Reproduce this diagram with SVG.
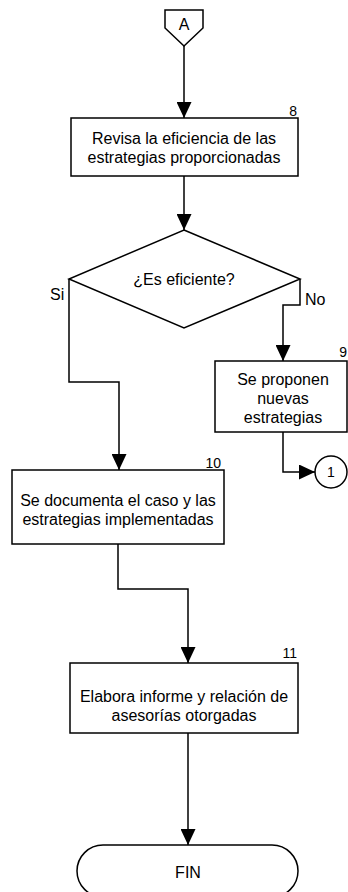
<svg xmlns="http://www.w3.org/2000/svg" width="348" height="892" viewBox="0 0 348 892">
<defs>
<marker id="arr" markerUnits="userSpaceOnUse" markerWidth="16" markerHeight="15" refX="16" refY="7.5" orient="auto">
<path d="M0,0 L16,7.5 L0,15 z" fill="#000"/>
</marker>
<style>
.s{fill:#fff;stroke:#000;stroke-width:1.5}
.c{fill:none;stroke:#000;stroke-width:1.5;marker-end:url(#arr)}
.l{fill:none;stroke:#000;stroke-width:1.5}
text{font-family:"Liberation Sans",Arial,sans-serif;font-size:16px;fill:#000}
.m{text-anchor:middle}
.n{font-size:14px;text-anchor:end}
</style>
</defs>
<rect width="348" height="892" fill="#fff"/>
<g id="connectors">
<path class="c" d="M184,46 V118"/>
<path class="c" d="M184,176 V230"/>
<path class="c" d="M69,279 V382 H119 V470"/>
<path class="c" d="M300,279 V305 H283 V361"/>
<path class="c" d="M283,432 V472 H315"/>
<path class="c" d="M118,544 V589 H188 V663"/>
<path class="c" d="M188,733 V845"/>
</g>
<g id="connA">
<path class="s" d="M165,10 H203 V28 L184,46 L165,28 Z"/>
<text class="m" x="184" y="30">A</text>
</g>
<g id="n8">
<rect class="s" x="71" y="118" width="227" height="58"/>
<text class="n" x="297" y="116">8</text>
<text class="m" x="184" y="144">Revisa la eficiencia de las</text>
<text class="m" x="184" y="163">estrategias proporcionadas</text>
</g>
<g id="d1">
<path class="s" d="M184,230 L300,279 L184,328 L69,279 Z"/>
<text class="m" x="184" y="285">¿Es eficiente?</text>
<text x="50" y="300">Si</text>
<text x="305" y="305">No</text>
</g>
<g id="n9">
<rect class="s" x="215" y="361" width="132" height="71"/>
<text class="n" x="347" y="357">9</text>
<text class="m" x="283" y="385">Se proponen</text>
<text class="m" x="283" y="404">nuevas</text>
<text class="m" x="283" y="423">estrategias</text>
</g>
<g id="conn1">
<circle class="s" cx="331" cy="472" r="16"/>
<text class="m" x="331" y="477" style="font-size:14px">1</text>
</g>
<g id="n10">
<rect class="s" x="12" y="470" width="212" height="74"/>
<text class="n" x="221" y="468">10</text>
<text class="m" x="118" y="506">Se documenta el caso y las</text>
<text class="m" x="118" y="525">estrategias implementadas</text>
</g>
<g id="n11">
<rect class="s" x="70" y="663" width="228" height="70"/>
<text class="n" x="297" y="658">11</text>
<text class="m" x="184" y="702">Elabora informe y relación de</text>
<text class="m" x="184" y="721">asesorías otorgadas</text>
</g>
<g id="fin">
<rect class="s" x="77" y="845" width="221" height="52" rx="26" ry="26"/>
<text class="m" x="188" y="878">FIN</text>
</g>
</svg>
